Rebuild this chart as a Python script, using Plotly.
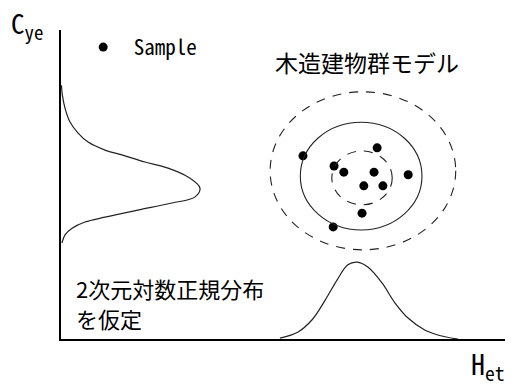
import plotly.graph_objects as go

# sample points (Het, Cye)
sample_het = [5.45, 7.12, 6.15, 6.37, 7.05, 7.82, 6.82, 7.25, 6.78, 6.13]
sample_cye = [4.15, 4.33, 3.92, 3.78, 3.78, 3.72, 3.47, 3.47, 2.85, 2.54]

# marginal distribution of Cye (drawn along the vertical axis)
cye_dens = [0.01, 0.03, 0.09, 0.20, 0.38, 0.61, 0.99, 1.37, 1.89, 2.41, 2.86, 3.13,
            3.02, 2.50, 1.73, 0.99, 0.54, 0.25, 0.09, 0.02]
cye_vals = [5.75, 5.53, 5.23, 4.92, 4.67, 4.46, 4.28, 4.17, 4.01, 3.87, 3.67, 3.42,
            3.22, 3.08, 2.92, 2.76, 2.65, 2.51, 2.36, 2.17]

# marginal distribution of Het (drawn along the horizontal axis)
het_vals = [4.93, 5.34, 5.65, 5.95, 6.22, 6.46, 6.67, 6.91, 7.23, 7.52, 7.81, 8.20, 8.65, 8.94]
het_dens = [0.02, 0.16, 0.43, 0.88, 1.34, 1.68, 1.74, 1.63, 1.27, 0.82, 0.48, 0.20, 0.05, 0.0]

# contour ellipses: centre, radii, dashed?
ell_cx = [6.80, 6.76, 6.78]
ell_cy = [3.81, 3.69, 3.65]
ell_rx = [2.09, 1.37, 0.68]
ell_ry = [1.79, 1.22, 0.61]
ell_dash = ["dash", "solid", "dash"]

fig = go.Figure()

fig.add_trace(go.Scatter(x=cye_dens, y=cye_vals, mode="lines", line_shape="spline",
                         line=dict(color="#222", width=1.2), showlegend=False, hoverinfo="skip"))
fig.add_trace(go.Scatter(x=het_vals, y=het_dens, mode="lines", line_shape="spline",
                         line=dict(color="#222", width=1.2), showlegend=False, hoverinfo="skip"))

for cx, cy, rx, ry, d in zip(ell_cx, ell_cy, ell_rx, ell_ry, ell_dash):
    fig.add_shape(type="circle", xref="x", yref="y",
                  x0=cx - rx, x1=cx + rx, y0=cy - ry, y1=cy + ry,
                  line=dict(color="#222", width=1.1, dash="9px,8px" if d == "dash" else "solid"))

fig.add_trace(go.Scatter(x=sample_het, y=sample_cye, mode="markers", name="\u00a0Sample",
                         marker=dict(color="black", size=9)))

narrow = "Noto Sans Mono CJK JP, DejaVu Sans Condensed, sans-serif"
jp = "Noto Sans CJK JP"

fig.add_annotation(text="C<sub>ye</sub>", xref="paper", yref="paper", x=-0.118, y=1.093,
                   xanchor="left", yanchor="top", showarrow=False,
                   font=dict(family=narrow, size=27, color="black"))
fig.add_annotation(text="H<sub>et</sub>", xref="paper", yref="paper", x=0.92, y=-0.005,
                   xanchor="left", yanchor="top", showarrow=False,
                   font=dict(family=narrow, size=28, color="black"))
fig.add_annotation(text="木造建物群モデル", x=6.9, y=6.28, xref="x", yref="y", showarrow=False,
                   font=dict(family=jp, size=23, color="black"))
fig.add_annotation(text="2次元対数正規分布", x=0.3, y=1.15, xref="x", yref="y",
                   xanchor="left", showarrow=False, font=dict(family=jp, size=22, color="black"))
fig.add_annotation(text="を仮定", x=0.3, y=0.48, xref="x", yref="y",
                   xanchor="left", showarrow=False, font=dict(family=jp, size=22, color="black"))

fig.update_xaxes(range=[0, 10], showline=True, linewidth=2, linecolor="black",
                 showgrid=False, zeroline=False, showticklabels=False, ticks="")
fig.update_yaxes(range=[0, 7], showline=True, linewidth=2, linecolor="black",
                 showgrid=False, zeroline=False, showticklabels=False, ticks="")
fig.update_layout(width=515, height=392, margin=dict(l=61, r=10, t=30, b=53),
                  plot_bgcolor="white", paper_bgcolor="white",
                  legend=dict(x=0.05, y=1.01, xanchor="left", yanchor="top",
                              bgcolor="rgba(0,0,0,0)",
                              font=dict(family=narrow, size=21, color="black")))

fig.write_html("out.html", config={"displayModeBar": False},
               post_script="document.body.style.margin='0';")
